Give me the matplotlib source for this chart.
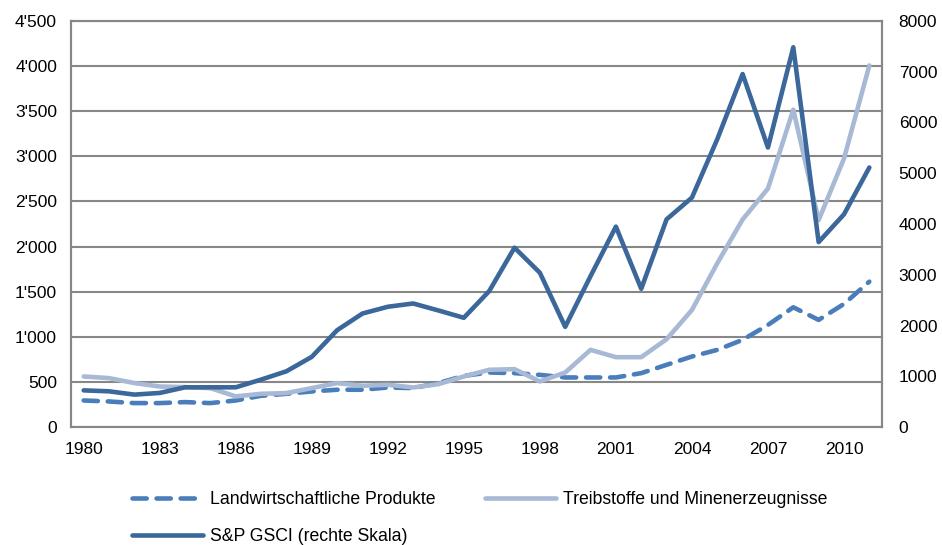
import matplotlib
matplotlib.use("Agg")
import matplotlib.pyplot as plt
import matplotlib.ticker as mticker
import numpy as np

plt.rcParams['font.family'] = ['Liberation Sans', 'DejaVu Sans']

jahre = list(range(1980, 2012))

landwirtschaft = [294, 283, 265, 265, 276, 265, 294, 346, 368, 394, 413, 413, 438, 431, 487, 567,
                  604, 597, 578, 549, 549, 549, 597, 689, 781, 855, 966, 1131, 1327, 1187, 1364, 1611]
treibstoffe = [560, 542, 487, 449, 442, 431, 339, 368, 376, 431, 487, 457, 468, 438, 475, 560,
               634, 641, 505, 604, 855, 774, 774, 973, 1297, 1814, 2300, 2643, 3517, 2293, 2975, 4007]
gsci = [722, 703, 638, 671, 782, 782, 782, 934, 1098, 1382, 1907, 2236, 2369, 2434, 2296, 2152,
        2677, 3533, 3040, 1974, 2973, 3948, 2724, 4092, 4520, 5671, 6955, 5507, 7482, 3644, 4191, 5113]

tick_jahre = list(range(1980, 2012, 3))

farbe_dunkel = '#3b679a'
farbe_hell = '#a8b9d5'
farbe_mittel = '#4a7ebb'
grau = '#878787'

fig = plt.figure(figsize=(9.42, 5.45), dpi=100)
ax = fig.add_axes([71 / 942, 1 - 427 / 545, (882 - 71) / 942, (427 - 21) / 545])
ax2 = ax.twinx()

x = np.arange(len(jahre))

l1, = ax.plot(x, landwirtschaft, color=farbe_mittel, lw=3.3, ls=(0, (3.1, 2.15)),
              dash_capstyle='round', solid_capstyle='round', label='Landwirtschaftliche Produkte')
l2, = ax.plot(x, treibstoffe, color=farbe_hell, lw=3.3, solid_capstyle='round',
              label='Treibstoffe und Minenerzeugnisse')
l3, = ax2.plot(x, gsci, color=farbe_dunkel, lw=3.3, solid_capstyle='round',
               label='S&P GSCI (rechte Skala)')

ax.set_xlim(-0.5, len(jahre) - 0.5)
ax.set_ylim(0, 4500)
ax2.set_ylim(0, 8000)
ax.set_yticks(np.arange(0, 4501, 500))
ax2.set_yticks(np.arange(0, 8001, 1000))

ax.yaxis.set_major_formatter(mticker.FuncFormatter(
    lambda v, p: f"{int(v):,}".replace(",", "'")))

ax.set_xticks([jahre.index(j) for j in tick_jahre])
ax.set_xticklabels([str(j) for j in tick_jahre])

ax.grid(axis='y', color=grau, lw=1.5)
ax.set_axisbelow(True)
for a in (ax, ax2):
    for s in a.spines.values():
        s.set_color(grau)
        s.set_linewidth(1.5)
    a.tick_params(length=0, labelsize=12.5, colors='black')
ax.tick_params(axis='y', pad=10)
ax2.tick_params(axis='y', pad=12)
ax.tick_params(axis='x', pad=11)

fig.legend([l1, l3, l2], [l1.get_label(), l3.get_label(), l2.get_label()],
           ncol=2, loc='upper left', bbox_to_anchor=(132 / 942, 1 - 491 / 545),
           frameon=False, fontsize=12.7, handlelength=4.0, handletextpad=0.4,
           columnspacing=2.85, labelspacing=1.12, borderpad=0, borderaxespad=0)

fig.savefig('out.png', dpi=100)
